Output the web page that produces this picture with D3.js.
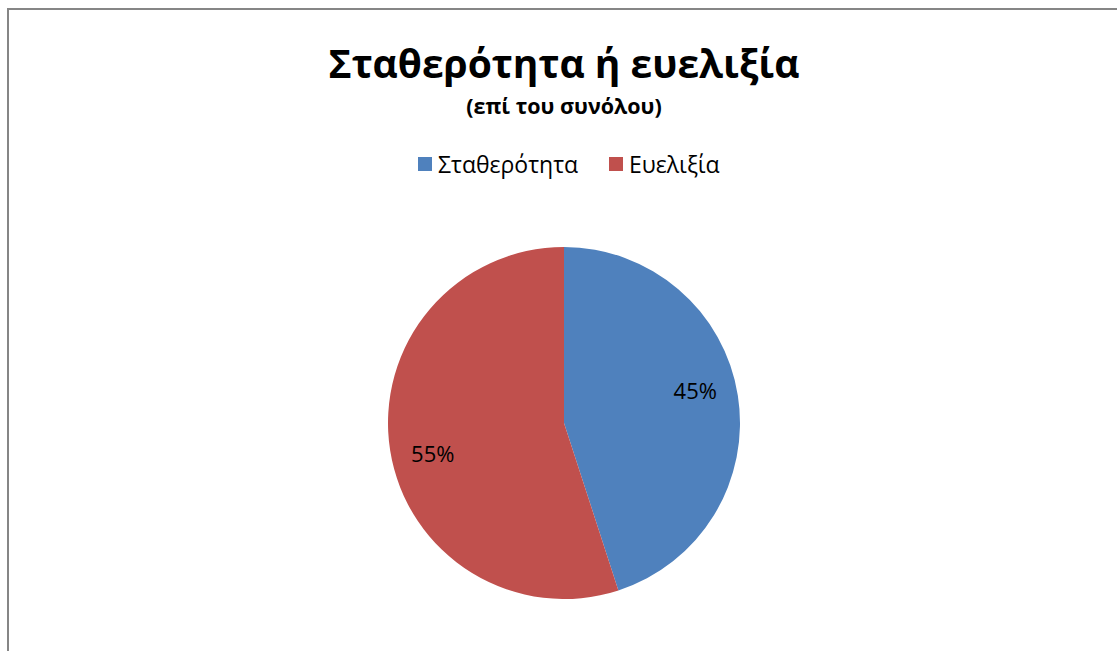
<!DOCTYPE html>
<html>
<head>
<meta charset="utf-8">
<script src="https://cdn.jsdelivr.net/npm/d3@7"></script>
<style>
  body { margin: 0; background: #fff; }
  svg { display: block; font-family: "Open Sans", "Noto Sans", sans-serif; }
</style>
</head>
<body>
<svg></svg>
<script>
const width = 1117;
const height = 651;

const categories = ['Σταθερότητα', 'Ευελιξία'];
const values = [45, 55];
const colors = ['#4f81bd', '#c0504d'];

const svg = d3.select('svg')
  .attr('width', width)
  .attr('height', height);

// chart border (only top and left show in the frame)
svg.append('path')
  .attr('d', 'M8,' + (height + 2) + 'V9H' + (width + 2))
  .attr('fill', 'none')
  .attr('stroke', '#868686')
  .attr('stroke-width', 2);

svg.append('text')
  .attr('x', 564).attr('y', 78)
  .attr('text-anchor', 'middle')
  .attr('font-size', 39).attr('font-weight', 'bold')
  .text('Σταθερότητα ή ευελιξία');

svg.append('text')
  .attr('x', 564).attr('y', 114)
  .attr('text-anchor', 'middle')
  .attr('font-size', 21.5).attr('font-weight', 'bold')
  .text('(επί του συνόλου)');

// legend
const legend = svg.append('g');
const legendX = [418, 609];
legend.selectAll('rect')
  .data(categories)
  .enter()
  .append('rect')
  .attr('x', (d, i) => legendX[i])
  .attr('y', 157)
  .attr('width', 14).attr('height', 14)
  .attr('fill', (d, i) => colors[i]);
legend.selectAll('text')
  .data(categories)
  .enter()
  .append('text')
  .attr('x', (d, i) => legendX[i] + 20)
  .attr('y', 173)
  .attr('font-size', 23)
  .text(d => d);

// pie
const cx = 564, cy = 423, r = 176;
const pie = d3.pie().sort(null).value(d => d);
const arc = d3.arc().innerRadius(0).outerRadius(r);

const g = svg.append('g').attr('transform', 'translate(' + cx + ',' + cy + ')');
const arcs = pie(values);

g.selectAll('path')
  .data(arcs)
  .enter()
  .append('path')
  .attr('d', arc)
  .attr('fill', (d, i) => colors[i]);

// labels sit a little anticlockwise of each slice's middle
function labelPos(d) {
  const a = (d.startAngle + d.endAngle) / 2 - 4.5 * Math.PI / 180;
  const lr = 135;
  return [lr * Math.sin(a), -lr * Math.cos(a)];
}

g.selectAll('text')
  .data(arcs)
  .enter()
  .append('text')
  .attr('transform', d => 'translate(' + labelPos(d) + ')')
  .attr('text-anchor', 'middle')
  .attr('dy', '0.35em')
  .attr('font-size', 22)
  .text(d => d.data + '%');
</script>
</body>
</html>
